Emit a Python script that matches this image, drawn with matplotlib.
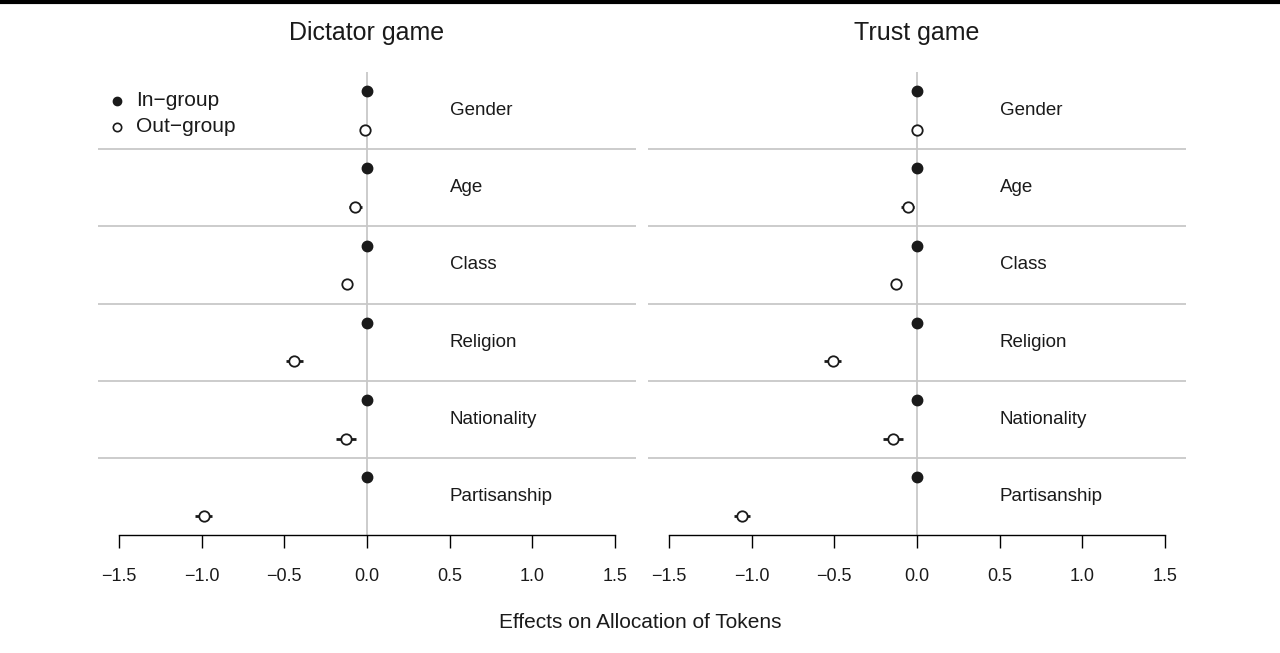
import numpy as np
import matplotlib.pyplot as plt
from matplotlib.lines import Line2D

plt.rcParams['font.family'] = ['Liberation Sans', 'DejaVu Sans']

categories = ['Gender', 'Age', 'Class', 'Religion', 'Nationality', 'Partisanship']

# point estimates and half-widths of the intervals, per game
dictator_in = [0.0, 0.0, 0.0, 0.0, 0.0, 0.0]
dictator_in_err = [0.0, 0.0, 0.0, 0.0, 0.0, 0.0]
dictator_out = [-0.01, -0.07, -0.12, -0.44, -0.127, -0.988]
dictator_out_err = [0.02, 0.04, 0.02, 0.052, 0.06, 0.05]

trust_in = [0.0, 0.0, 0.0, 0.0, 0.0, 0.0]
trust_in_err = [0.0, 0.0, 0.0, 0.0, 0.0, 0.0]
trust_out = [0.0, -0.056, -0.125, -0.509, -0.145, -1.059]
trust_out_err = [0.02, 0.038, 0.02, 0.052, 0.061, 0.05]

xticks = [-1.5, -1.0, -0.5, 0.0, 0.5, 1.0, 1.5]
xtick_labels = ['\u22121.5', '\u22121.0', '\u22120.5', '0.0', '0.5', '1.0', '1.5']

legend_labels = ['In\u2212group', 'Out\u2212group']

GRID = '#c8c8c8'
INK = '#1a1a1a'
W, H = 1280, 653


def draw_panel(ax, vin, ein, vout, eout):
    n = len(categories)
    rows = np.arange(n)
    y_in = n - rows - 0.25
    y_out = n - rows - 0.75

    ax.axvline(0, color=GRID, lw=1.3, zorder=1)
    for k in range(1, n):
        ax.axhline(k, color=GRID, lw=1.3, zorder=1)

    ax.errorbar(vin, y_in, xerr=ein, fmt='o', ms=7.5, mfc=INK, mec=INK,
                ecolor=INK, elinewidth=2, capsize=0, zorder=3)
    ax.errorbar(vout, y_out, xerr=eout, fmt='o', ms=7.5, mfc='white', mec=INK,
                mew=1.3, ecolor=INK, elinewidth=2, capsize=0, zorder=3)

    for k, name in enumerate(categories):
        ax.text(0.5, n - k - 0.5, name, ha='left', va='center', fontsize=13.5,
                color=INK)

    ax.set_xlim(-1.627, 1.627)
    ax.set_ylim(0, n)
    ax.set_yticks([])
    for side in ['top', 'right', 'left']:
        ax.spines[side].set_visible(False)
    ax.spines['bottom'].set_bounds(-1.5, 1.5)
    ax.spines['bottom'].set_linewidth(1.0)
    ax.set_xticks(xticks)
    ax.set_xticklabels(xtick_labels)
    ax.tick_params(axis='x', length=9, width=1.0, pad=15, labelsize=13,
                   labelcolor=INK)


fig = plt.figure(figsize=(W / 100, H / 100), dpi=100)
ax1 = fig.add_axes([98 / W, 1 - 535 / H, 538 / W, 463 / H])
ax2 = fig.add_axes([648 / W, 1 - 535 / H, 538 / W, 463 / H])

draw_panel(ax1, dictator_in, dictator_in_err, dictator_out, dictator_out_err)
draw_panel(ax2, trust_in, trust_in_err, trust_out, trust_out_err)

for ax, title in [(ax1, 'Dictator game'), (ax2, 'Trust game')]:
    cx = 0.5 * (ax.get_position().x0 + ax.get_position().x1)
    fig.text(cx, 1 - 33 / H, title, ha='center', va='center', fontsize=18, color=INK)

# legend keys in the upper left of the first panel
legend_y = [100.5, 127]
fig.add_artist(Line2D([117 / W], [1 - legend_y[0] / H], ls='none', marker='o', ms=6,
                      mfc=INK, mec=INK, transform=fig.transFigure))
fig.add_artist(Line2D([117 / W], [1 - legend_y[1] / H], ls='none', marker='o', ms=6,
                      mfc='white', mec=INK, mew=1.2, transform=fig.transFigure))
for lab, ly in zip(legend_labels, legend_y):
    fig.text(136 / W, 1 - ly / H, lab, ha='left', va='center', fontsize=15, color=INK)

fig.text(0.5, 1 - 622 / H, 'Effects on Allocation of Tokens', ha='center', va='center',
         fontsize=15, color=INK)

# heavy rule across the top edge
fig.add_artist(Line2D([0, 1], [0.997, 0.997], transform=fig.transFigure,
                      color='black', lw=3))

fig.savefig('out.png', dpi=100)
